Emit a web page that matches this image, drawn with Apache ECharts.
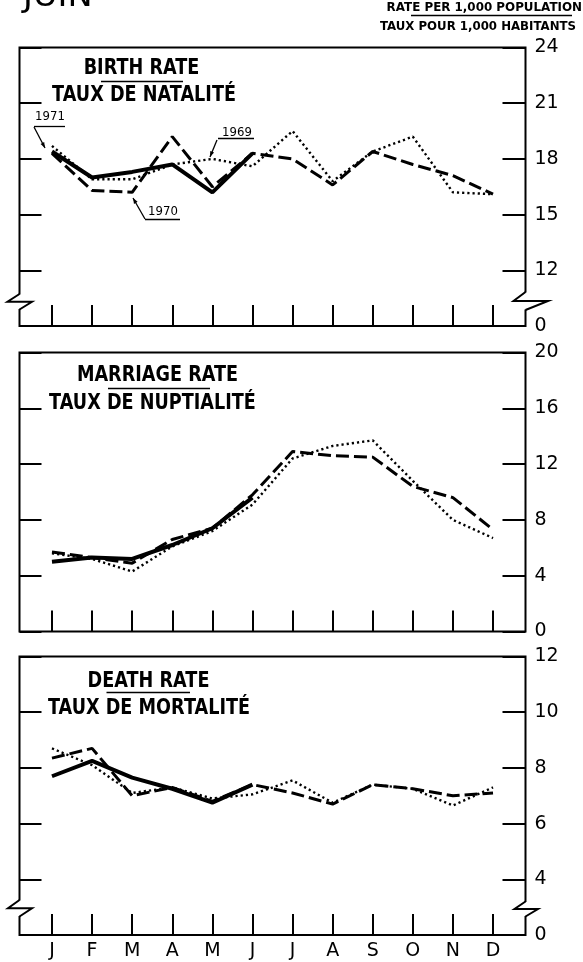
<!DOCTYPE html>
<html>
<head>
<meta charset="utf-8">
<script type="text/javascript" src="https://cdn.jsdelivr.net/npm/echarts@6.0.0/dist/echarts.min.js"></script>
</head>
<body style="margin:0;background:#fff">
<div id="container" style="width:583px;height:962px"></div>
<script>
// month letters and positions (0 = January)
var months = ['J', 'F', 'M', 'A', 'M', 'J', 'J', 'A', 'S', 'O', 'N', 'D'];
var monthIdx = [0, 1, 2, 3, 4, 5, 6, 7, 8, 9, 10, 11];

// birth rate / taux de natalite
var birth1969 = [18.7, 16.9, 16.9, 17.7, 18.0, 17.6, 19.5, 16.8, 18.4, 19.2, 16.2, 16.1];
var birth1970 = [18.3, 16.3, 16.2, 19.2, 16.5, 18.3, 18.0, 16.6, 18.4, 17.7, 17.1, 16.1];
var birth1971 = [18.4, 17.0, 17.3, 17.7, 16.2, 18.3];

// marriage rate / taux de nuptialite
var marr1969 = [5.6, 5.2, 4.3, 6.1, 7.2, 9.1, 12.4, 13.3, 13.7, 10.8, 8.0, 6.7];
var marr1970 = [5.7, 5.3, 4.9, 6.6, 7.4, 9.8, 12.9, 12.6, 12.5, 10.4, 9.6, 7.3];
var marr1971 = [5.0, 5.3, 5.2, 6.2, 7.4, 9.6];

// death rate / taux de mortalite
var death1969 = [8.7, 8.1, 7.1, 7.3, 6.9, 7.05, 7.55, 6.75, 7.4, 7.25, 6.65, 7.3];
var death1970 = [8.35, 8.7, 7.0, 7.3, 6.8, 7.4, 7.1, 6.7, 7.4, 7.25, 7.0, 7.1];
var death1971 = [7.7, 8.25, 7.65, 7.25, 6.75, 7.4];

// y scales: the lowest tick of a broken axis is labelled 0
var yMin = [9, 0, 2];
var yMax = [24, 20, 12];
var yStep = [3, 4, 2];

var font = 'DejaVu Sans';
var panels = [
    {top: 47.5, height: 278.5, d69: birth1969, d70: birth1970, d71: birth1971},
    {top: 352.5, height: 279, d69: marr1969, d70: marr1970, d71: marr1971},
    {top: 656.5, height: 278.5, d69: death1969, d70: death1970, d71: death1971}
];

function pairs(arr) {
    return arr.map(function (v, i) { return [i, v]; });
}

var grids = [], xAxes = [], yAxes = [], series = [];
panels.forEach(function (p, i) {
    grids.push({
        left: 19.5, right: 57.5, top: p.top, height: p.height,
        show: true, borderColor: '#000', borderWidth: 2
    });
    xAxes.push({
        gridIndex: i, type: 'value', min: -0.81, max: 11.81,
        axisLine: {show: false, onZero: false}, splitLine: {show: false},
        axisTick: {show: true, inside: true, length: 21, customValues: monthIdx,
            lineStyle: {color: '#000', width: 2}},
        axisLabel: {show: i === 2, customValues: monthIdx, margin: 7,
            color: '#000', fontFamily: font, fontSize: 19,
            formatter: function (v) { return months[Math.round(v)]; }}
    });
    // left axis: ticks only
    yAxes.push({
        gridIndex: i, type: 'value', position: 'left',
        min: yMin[i], max: yMax[i], interval: yStep[i],
        axisLine: {show: false, onZero: false}, splitLine: {show: false},
        axisLabel: {show: false},
        axisTick: {show: true, inside: true, length: 22, lineStyle: {color: '#000', width: 2}}
    });
    // right axis: ticks + labels
    yAxes.push({
        gridIndex: i, type: 'value', position: 'right',
        min: yMin[i], max: yMax[i], interval: yStep[i],
        axisLine: {show: false, onZero: false}, splitLine: {show: false},
        axisLabel: {color: '#000', fontFamily: font, fontSize: 19, margin: 9,
            formatter: function (v) { return v === yMin[i] ? '0' : String(v); }},
        axisTick: {show: true, inside: true, length: 23, lineStyle: {color: '#000', width: 2}}
    });
    var base = {type: 'line', xAxisIndex: i, yAxisIndex: i * 2 + 1, showSymbol: false,
        silent: true, animation: false, z: 5};
    series.push(Object.assign({}, base, {name: '1969', data: pairs(p.d69),
        lineStyle: {color: '#000', width: 2.4, type: [2.2, 3]}}));
    series.push(Object.assign({}, base, {name: '1970', data: pairs(p.d70),
        lineStyle: {color: '#000', width: 3, type: [13, 5]}}));
    series.push(Object.assign({}, base, {name: '1971', data: pairs(p.d71),
        lineStyle: {color: '#000', width: 4}}));
});

// titles, header, breaks, year labels
var g = [];
function text(x, y, s, size, opt) {
    opt = opt || {};
    g.push({type: 'text', x: x, y: y, scaleX: opt.sx || 1, z: 100,
        style: {text: s, fill: '#000', font: (opt.bold ? 'bold ' : '') + size + 'px ' + font,
            textAlign: opt.align || 'center', textVerticalAlign: 'middle'}});
}
function line(pts, w) {
    g.push({type: 'polyline', z: 100, shape: {points: pts},
        style: {stroke: '#000', lineWidth: w || 1.5, fill: null}});
}
function arrow(x1, y1, x2, y2) {
    line([[x1, y1], [x2, y2]], 1.3);
    var a = Math.atan2(y2 - y1, x2 - x1), L = 6;
    g.push({type: 'polygon', z: 100, shape: {points: [[x2, y2],
        [x2 - L * Math.cos(a - 0.35), y2 - L * Math.sin(a - 0.35)],
        [x2 - L * Math.cos(a + 0.35), y2 - L * Math.sin(a + 0.35)]]},
        style: {fill: '#000'}});
}
function brk(x, y1, y2, dxL, dxR) {
    g.push({type: 'rect', z: 99, shape: {x: x - 3, y: y1 + 0.5, width: 6, height: y2 - y1 - 1},
        style: {fill: '#fff'}});
    var my = (y1 + y2) / 2;
    line([[x, y1], [x - dxL, my], [x + dxR, my], [x, y2]], 2);
}

text(23, -2.5, 'JUIN', 32, {align: 'left', sx: 1.05});
text(582, 8, 'RATE PER 1,000 POPULATION', 13, {align: 'right', bold: true, sx: 0.915});
line([[411, 15.5], [572, 15.5]], 1.3);
text(576, 26.5, 'TAUX POUR 1,000 HABITANTS', 13, {align: 'right', bold: true, sx: 0.905});

var ts = 21, tsx = 0.84;
text(141.5, 69, 'BIRTH RATE', ts, {bold: true, sx: tsx});
line([[101, 81.5], [183, 81.5]], 1.5);
text(144, 96, 'TAUX DE NATALITÉ', ts, {bold: true, sx: tsx});

text(157.5, 375.5, 'MARRIAGE RATE', ts, {bold: true, sx: tsx});
line([[108, 388.5], [210, 388.5]], 1.5);
text(152.5, 403.5, 'TAUX DE NUPTIALITÉ', ts, {bold: true, sx: tsx});

text(148.5, 682, 'DEATH RATE', ts, {bold: true, sx: tsx});
line([[106.5, 692.5], [190, 692.5]], 1.5);
text(149, 708.5, 'TAUX DE MORTALITÉ', ts, {bold: true, sx: tsx});

// year annotations
text(50, 117, '1971', 13, {sx: 0.9});
line([[34, 126.5], [65, 126.5]], 1.3);
arrow(34, 127, 45, 148);
text(237, 132.5, '1969', 13, {sx: 0.9});
line([[218, 138.5], [254, 138.5]], 1.3);
arrow(217, 140, 210, 157);
text(163, 211.5, '1970', 13, {sx: 0.9});
line([[145, 219.5], [180, 219.5]], 1.3);
arrow(145, 219, 133, 198);

// axis breaks
brk(19.5, 294, 309.5, 12, 12.5);
brk(525.5, 292, 310, 12, 22.5);
brk(19.5, 900, 916.5, 11.5, 12.5);
brk(525.5, 901.5, 916.5, 11, 12.5);

var option = {
    animation: false,
    backgroundColor: '#fff',
    grid: grids,
    xAxis: xAxes,
    yAxis: yAxes,
    series: series,
    graphic: g
};
var myChart = echarts.init(document.getElementById('container'), null, {renderer: 'canvas'});
myChart.setOption(option);
</script>
</body>
</html>
